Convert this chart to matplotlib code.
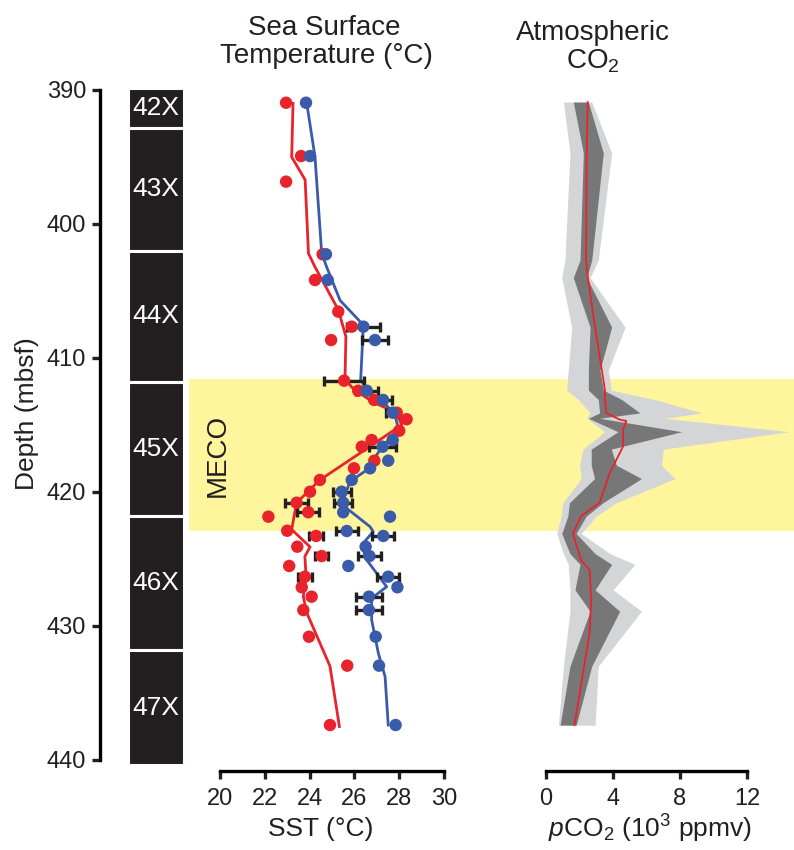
import numpy as np
import matplotlib
matplotlib.use("Agg")
import matplotlib.pyplot as plt

plt.rcParams['font.family'] = ['Liberation Sans', 'DejaVu Sans']
plt.rcParams['mathtext.fontset'] = 'custom'
plt.rcParams['mathtext.rm'] = 'Liberation Sans'
plt.rcParams['mathtext.it'] = 'Liberation Sans:italic'

# ---------------- data ----------------
core_names = ['42X', '43X', '44X', '45X', '46X', '47X']
core_top = [389.85, 392.8, 402.0, 411.8, 421.8, 431.8]
core_bottom = [392.8, 402.0, 411.8, 421.8, 431.8, 440.4]

meco_top = 411.6
meco_bottom = 422.9

red_depth = [390.95, 394.93, 396.84, 402.26, 404.18, 406.54, 407.66, 408.66, 411.69, 412.44,
             413.13, 414.08, 414.57, 415.43, 416.12, 416.62, 417.66, 418.23, 419.10, 419.98,
             420.80, 421.51, 421.84, 422.89, 423.28, 424.08, 424.78, 425.52, 426.32, 427.11,
             427.81, 428.81, 430.80, 432.96, 437.39]
red_sst = [22.95, 23.62, 22.95, 24.58, 24.24, 25.28, 25.88, 24.96, 25.54, 26.17,
           26.88, 27.89, 28.33, 28.00, 26.77, 26.33, 26.89, 25.98, 24.46, 24.02,
           23.42, 23.94, 22.16, 23.00, 24.29, 23.45, 24.54, 23.09, 23.79, 23.65,
           24.09, 23.72, 23.97, 25.68, 24.91]
red_err = [0, 0, 0, 0, 0, 0, 0, 0, 0.9, 0,
           0, 0, 0, 0, 0, 0, 0, 0, 0, 0,
           0.5, 0.5, 0, 0, 0.3, 0, 0.3, 0, 0.3, 0,
           0, 0, 0, 0, 0]

blue_depth = [390.95, 394.93, 402.26, 404.18, 407.66, 408.66, 412.44, 413.13, 414.08, 416.12,
              416.62, 417.66, 418.23, 419.10, 419.98, 420.80, 421.51, 421.84, 422.91, 423.28,
              424.08, 424.78, 425.52, 426.32, 427.11, 427.81, 428.81, 430.80, 432.96, 437.39]
blue_sst = [23.84, 24.02, 24.73, 24.81, 26.40, 26.92, 26.55, 27.28, 27.71, 27.71,
            27.26, 27.51, 26.70, 25.88, 25.43, 25.50, 25.50, 27.59, 25.66, 27.29,
            26.50, 26.67, 25.73, 27.51, 27.92, 26.65, 26.65, 26.95, 27.10, 27.84]
blue_err = [0, 0, 0, 0, 0.75, 0.6, 0.5, 0.4, 0.3, 0,
            0.6, 0, 0, 0, 0.4, 0.4, 0, 0, 0.5, 0.5,
            0, 0.5, 0, 0.5, 0, 0.6, 0.6, 0, 0, 0]

red_fit_depth = [391.0, 395.0, 396.7, 402.2, 403.2, 406.4, 408.4, 411.6, 412.3, 413.3, 414.1,
                 415.0, 417.1, 419.1, 420.8, 422.8, 424.1, 424.8, 426.3, 427.8, 429.0, 433.0, 437.5]
red_fit_sst = [23.26, 23.2, 23.8, 23.95, 24.24, 25.28, 25.62, 25.58, 25.95, 26.84, 27.89,
               28.11, 26.25, 24.46, 23.42, 23.2, 24.02, 23.79, 23.84, 23.72, 23.87, 24.91, 25.33]

blue_fit_depth = [390.95, 394.97, 402.19, 403.2, 405.7, 407.54, 411.64, 412.51, 413.26, 414.25,
                  415.25, 416.87, 418.36, 419.23, 420.6, 421.22, 422.59, 422.96, 423.96, 425.07,
                  427.07, 427.93, 429.55, 432.04, 433.78, 437.39]
blue_fit_sst = [23.87, 24.24, 24.54, 24.76, 25.36, 26.4, 26.28, 26.62, 27.29, 27.81,
                27.96, 27.14, 26.55, 25.8, 25.5, 25.66, 26.7, 26.84, 26.32, 26.55,
                27.44, 26.77, 26.77, 27.07, 27.37, 27.51]

co2_depth = [390.9, 394.7, 402.7, 404.0, 407.7, 410.9, 412.4, 413.1, 414.1, 414.5, 415.5,
             416.8, 418.0, 419.0, 420.8, 421.8, 423.1, 424.6, 425.4, 427.3, 428.9, 433.0, 437.4]
co2_light_lo = [1.04, 1.43, 1.13, 0.94, 1.53, 1.33, 1.23, 1.93, 2.63, 2.43, 3.5,
                2.2, 2.0, 2.1, 1.0, 0.9, 0.64, 1.04, 1.33, 1.43, 1.43, 1.04, 0.74]
co2_dark_lo = [1.63, 2.23, 2.03, 1.63, 2.63, 2.53, 2.53, 3.12, 3.2, 2.53, 4.3,
               2.7, 2.7, 2.9, 1.4, 1.3, 0.94, 1.43, 2.03, 1.73, 2.63, 1.43, 0.84]
co2_dark_hi = [2.53, 3.42, 2.73, 2.43, 3.92, 3.22, 3.42, 4.52, 5.61, 3.2, 8.1,
               3.9, 4.2, 5.7, 3.4, 2.4, 1.8, 2.93, 3.92, 2.93, 4.4, 2.73, 1.8]
co2_light_hi = [2.73, 3.92, 3.12, 2.63, 4.72, 3.72, 3.9, 6.5, 9.3, 7.1, 14.5,
                7.0, 6.9, 7.7, 4.2, 3.0, 2.1, 3.82, 5.31, 4.0, 5.7, 3.12, 2.93]
co2_med_depth = [390.9, 394.7, 402.7, 404.0, 407.7, 412.4, 413.1, 414.1, 414.6, 414.7, 415.3,
                 416.6, 418.6, 420.8, 421.8, 423.1, 425.1, 425.8, 428.0, 430.5, 437.4]
co2_median = [2.49, 2.43, 2.39, 2.5, 2.93, 3.52, 3.52, 3.6, 4.4, 4.8, 4.6,
              4.6, 3.8, 3.2, 2.1, 1.6, 2.1, 2.6, 2.7, 2.6, 1.7]

sst_ticks = [20, 22, 24, 26, 28, 30]
co2_ticks = [0, 4, 8, 12]
depth_ticks = [390, 400, 410, 420, 430, 440]

# ---------------- styling ----------------
W, H = 794, 850
RED = '#E8232B'
BLUE = '#3A5BAA'
INK = '#231f20'
YELLOW = '#FFF59C'
LIGHT = '#D4D5D7'
DARK = '#777778'

def fx(px):
    return px / W

def fy(py):
    return 1 - py / H

fig = plt.figure(figsize=(W / 100, H / 100), dpi=100)
top_px, bot_px = 90, 760
ax_h = (bot_px - top_px) / H
ax_b = fy(bot_px)

# background (MECO band)
ax_bg = fig.add_axes([fx(189), ax_b, fx(794 - 189), ax_h])
ax_bg.set_ylim(440, 390)
ax_bg.set_xlim(0, 1)
ax_bg.axhspan(meco_top, meco_bottom, color=YELLOW, lw=0)
ax_bg.text(0.048, (meco_top + meco_bottom) / 2, 'MECO', rotation=90, ha='center', va='center',
           fontsize=20, color=INK)
ax_bg.axis('off')

# core column + depth axis
ax_core = fig.add_axes([fx(100), ax_b, fx(87), ax_h])
ax_core.set_facecolor('none')
ax_core.set_ylim(440, 390)
ax_core.set_xlim(0, 87 / 56)
for name, t, b in zip(core_names, core_top, core_bottom):
    ax_core.bar(0.5, b - t, bottom=t, width=1.0, align='edge', color=INK, edgecolor='white',
                linewidth=2.2, clip_on=False)
    ax_core.text(1.0, (t + b) / 2, name, color='white', ha='center', va='center', fontsize=19)
for s in ['top', 'right', 'bottom']:
    ax_core.spines[s].set_visible(False)
ax_core.spines['left'].set_linewidth(2.4)
ax_core.spines['left'].set_bounds(390, 440)
ax_core.set_yticks(depth_ticks)
ax_core.set_xticks([])
ax_core.tick_params(axis='y', length=6, width=2.4, labelsize=17, pad=4, colors=INK)
fig.text(fx(27), fy(414), 'Depth (mbsf)', rotation=90, ha='center', va='center', fontsize=19, color=INK)

# SST panel
ax_sst = fig.add_axes([fx(220), ax_b, fx(224), ax_h])
ax_sst.set_facecolor('none')
ax_sst.set_xlim(20, 30)
ax_sst.set_ylim(440, 390)
ax_sst.plot(red_fit_sst, red_fit_depth, color=RED, lw=2.0, zorder=2)
ax_sst.plot(blue_fit_sst, blue_fit_depth, color=BLUE, lw=2.0, zorder=2)
for xs, ds, es in [(red_sst, red_depth, red_err), (blue_sst, blue_depth, blue_err)]:
    xs_a, ds_a, es_a = np.array(xs), np.array(ds), np.array(es)
    m = es_a > 0
    ax_sst.errorbar(xs_a[m], ds_a[m], xerr=es_a[m], fmt='none', ecolor=INK, elinewidth=2.4,
                    capsize=3.5, capthick=2.4, zorder=3)
ax_sst.scatter(red_sst, red_depth, s=80, color=RED, edgecolor='none', zorder=4)
ax_sst.scatter(blue_sst, blue_depth, s=80, color=BLUE, edgecolor='none', zorder=4)
for s in ['top', 'right', 'left']:
    ax_sst.spines[s].set_visible(False)
ax_sst.spines['bottom'].set_position(('outward', 8))
ax_sst.spines['bottom'].set_linewidth(2.4)
ax_sst.spines['bottom'].set_bounds(20, 30)
ax_sst.set_xticks(sst_ticks)
ax_sst.set_yticks([])
ax_sst.tick_params(axis='x', length=6, width=2.4, labelsize=17, pad=6, colors=INK)
fig.text(fx(321), fy(829), 'SST (°C)', ha='center', va='center', fontsize=19, color=INK)
fig.text(fx(324), fy(28), 'Sea Surface', ha='center', va='center', fontsize=20, color=INK)
fig.text(fx(326), fy(56), 'Temperature (°C)', ha='center', va='center', fontsize=20, color=INK)

# CO2 panel
ax_co2 = fig.add_axes([fx(546), ax_b, fx(794 - 546), ax_h])
ax_co2.set_facecolor('none')
ax_co2.set_xlim(0, (794 - 546) / 16.75)
ax_co2.set_ylim(440, 390)
ax_co2.fill_betweenx(co2_depth, co2_light_lo, co2_light_hi, color=LIGHT, lw=0, zorder=1)
ax_co2.fill_betweenx(co2_depth, co2_dark_lo, co2_dark_hi, color=DARK, lw=0, zorder=2)
ax_co2.plot(co2_median, co2_med_depth, color=RED, lw=1.3, zorder=3)
for s in ['top', 'right', 'left']:
    ax_co2.spines[s].set_visible(False)
ax_co2.spines['bottom'].set_position(('outward', 8))
ax_co2.spines['bottom'].set_linewidth(2.4)
ax_co2.spines['bottom'].set_bounds(0, 12)
ax_co2.set_xticks(co2_ticks)
ax_co2.set_yticks([])
ax_co2.tick_params(axis='x', length=6, width=2.4, labelsize=17, pad=6, colors=INK)
fig.text(fx(650), fy(829), r'$p$CO$_2$ (10$^3$ ppmv)', ha='center', va='center', fontsize=19, color=INK)
fig.text(fx(593), fy(33), 'Atmospheric', ha='center', va='center', fontsize=20, color=INK)
fig.text(fx(593), fy(61), r'CO$_2$', ha='center', va='center', fontsize=20, color=INK)

fig.savefig('out.png', dpi=100)
